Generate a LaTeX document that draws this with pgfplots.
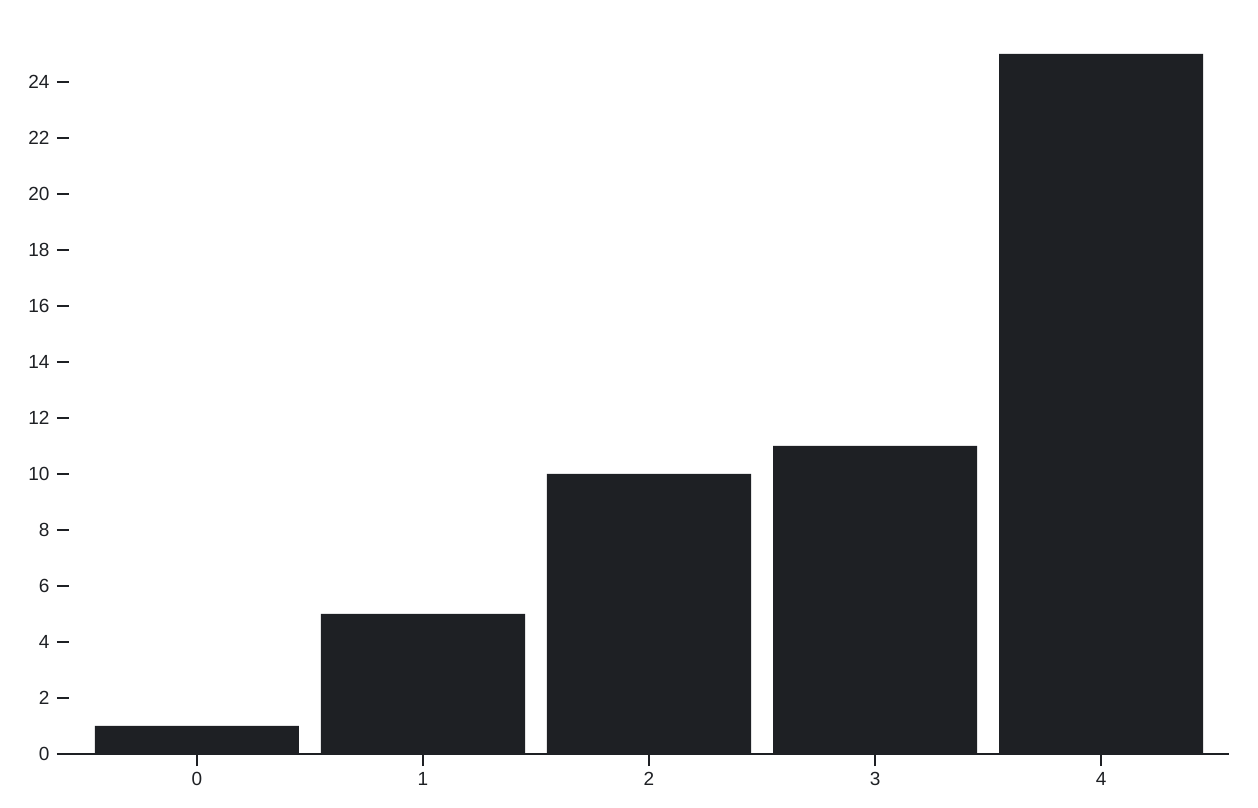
\documentclass[border=0pt]{standalone}
\usepackage{pgfplots}
\pgfplotsset{compat=1.18}
\usepackage{fontspec}
\setmainfont{Liberation Sans}
\definecolor{barcol}{RGB}{30,32,36}

\begin{document}
\begin{tikzpicture}
  \path[use as bounding box] (-57pt,-54pt) rectangle (1201pt,754pt);
  \begin{axis}[
    at={(0pt,0pt)}, anchor=south west,
    scale only axis,
    width=1172pt, height=700pt,
    xmin=-0.619, xmax=4.566,
    ymin=0, ymax=25,
    axis x line*=bottom,
    axis y line*=left,
    x axis line style={line width=2pt, color=barcol, -},
    y axis line style={draw=none},
    xtick={0,1,2,3,4},
    ytick={0,2,...,24},
    tick style={line width=1.8pt, color=barcol},
    xtick align=outside,
    ytick align=inside,
    major tick length=12pt,
    every tick label/.append style={font=\fontsize{19}{22}\selectfont, color=barcol},
    /pgf/number format/assume math mode=true,
    yticklabel style={xshift=-4pt},
    xticklabel style={yshift=-3pt},
  ]
    \addplot[ybar, bar width=0.903, fill=barcol, draw=none]
      coordinates {(0,1) (1,5) (2,10) (3,11) (4,25)};
  \end{axis}
\end{tikzpicture}
\end{document}
